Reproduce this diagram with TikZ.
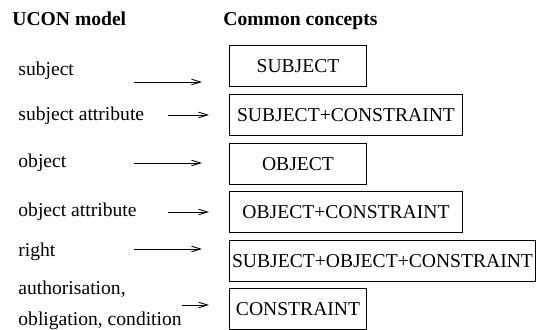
\documentclass[tikz,border=0pt]{standalone}
\usepackage{fontspec}
\setmainfont{Liberation Serif}
\usetikzlibrary{arrows.meta, positioning}
\tikzset{
	concept/.style={rectangle, draw, line width=0.5pt, minimum height=20.5pt, inner sep=1pt, anchor=west},
	term/.style={anchor=base west, inner sep=0pt},
	line/.style={draw, line width=0.45pt, -{Straight Barb[length=4.5pt, width=2.8pt]}}
}

\begin{document}
\begin{tikzpicture}[x=0.5pt, y=-0.5pt, node distance=3.3pt, font=\fontsize{9.8}{15.9}\selectfont]
    \useasboundingbox (0,0) rectangle (536,330);
    % Headings
    \node[term, font=\fontsize{9.8}{12}\selectfont\bfseries] (ucon) at (12,26) {UCON model};
    \node[term, font=\fontsize{9.8}{12}\selectfont\bfseries] (common) at (223,26) {Common concepts};
    % UCON terms
    \node[term] (subj) at (18,76) {subject};
    \node[term] (subjattr) at (18,121) {subject attribute};
    \node[term] (obj) at (18,168) {object};
    \node[term] (objattr) at (18,217) {object attribute};
    \node[term] (right) at (18,257) {right};
    \node[term, align=left] (auth) at (18,326) {authorisation,\\obligation, condition};
    % Common concepts
    \node[concept, minimum width=68.5pt] (c1) at (229,66.5) {SUBJECT};
    \node[concept, minimum width=116.5pt, below=of c1.south west, anchor=north west] (c2) {SUBJECT+CONSTRAINT};
    \node[concept, minimum width=68.5pt, below=of c2.south west, anchor=north west] (c3) {OBJECT};
    \node[concept, minimum width=116.5pt, below=of c3.south west, anchor=north west] (c4) {OBJECT+CONSTRAINT};
    \node[concept, minimum width=153pt, below=of c4.south west, anchor=north west] (c5) {SUBJECT+OBJECT+CONSTRAINT};
    \node[concept, minimum width=68.5pt, below=of c5.south west, anchor=north west] (c6) {CONSTRAINT};
    % Arrows
    \foreach \i/\xa/\xb/\y in {1/134/202/82, 2/168/209/115, 3/134/202/163, 4/168/209/212, 5/134/202/249, 6/182/209/305} {
        \coordinate (from\i) at (\xa,\y);
        \coordinate (to\i) at (\xb,\y);
        \draw[line] (from\i) -- (to\i);
    }
\end{tikzpicture}
\end{document}
